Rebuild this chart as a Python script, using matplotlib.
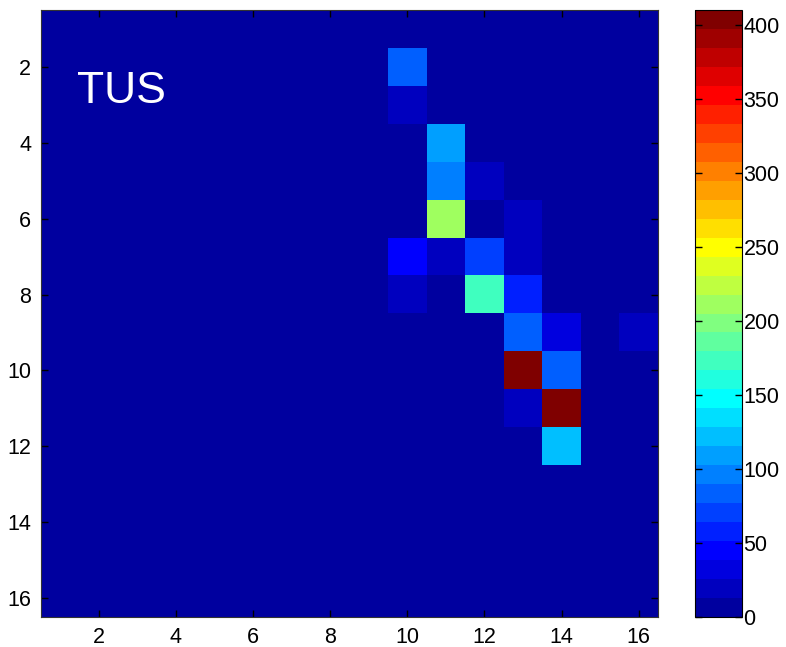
import numpy as np
import matplotlib
matplotlib.use('Agg')
import matplotlib.pyplot as plt
from matplotlib.colors import ListedColormap

# Datos (fila, columna, valor) - el resto de la matriz 16x16 es cero
filas = [2, 3, 4, 5, 5, 6, 6, 7, 7, 7, 7, 8, 8, 8, 9, 9, 9, 10, 10, 11, 11, 12]
columnas = [10, 10, 11, 11, 12, 11, 13, 10, 11, 12, 13, 10, 12, 13, 13, 14, 16, 13, 14, 13, 14, 14]
valores = [83, 20, 108, 96, 20, 211, 20, 45, 20, 70, 20, 20, 173, 58, 83, 32, 18, 405, 83, 20, 410, 122]
cbar_ticks = [0, 50, 100, 150, 200, 250, 300, 350, 400]
N = 16

M = np.zeros((N, N))
for f, c, v in zip(filas, columnas, valores):
    M[f - 1, c - 1] = v


# jet(32) como en MATLAB
def jet_matlab(m):
    n = int(np.ceil(m / 4))
    u = np.concatenate([np.arange(1, n + 1) / n, np.ones(n - 1), np.arange(n, 0, -1) / n])
    g = int(np.ceil(n / 2)) - (1 if m % 4 == 1 else 0) + np.arange(1, len(u) + 1)
    r = g + n
    b = g - n
    J = np.zeros((m, 3))
    for idx, col in ((r, 0), (g, 1), (b, 2)):
        ok = (idx >= 1) & (idx <= m)
        J[idx[ok] - 1, col] = u[ok]
    return ListedColormap(J)


cmap = jet_matlab(32)
plt.rcParams['font.family'] = ['Liberation Sans', 'DejaVu Sans']

fig = plt.figure(figsize=(7.86, 6.47), dpi=100)
ax = fig.add_axes([41 / 786, 1 - 617 / 647, 617 / 786, 607 / 647])
im = ax.imshow(M, cmap=cmap, vmin=0, vmax=M.max(), aspect='auto',
               extent=[0.5, N + 0.5, N + 0.5, 0.5], interpolation='nearest')
ax.set_xticks(range(2, N + 1, 2))
ax.set_yticks(range(2, N + 1, 2))
ax.tick_params(direction='in', length=5, width=1, top=True, right=True,
               labelsize=15.5, pad=7)
for s in ax.spines.values():
    s.set_linewidth(0.8)
    s.set_color('#333333')
ax.text(1.43, 2.96, 'TUS', color='white', fontsize=32)

cax = fig.add_axes([695 / 786, 1 - 617 / 647, 47 / 786, 607 / 647])
cb = fig.colorbar(im, cax=cax, ticks=cbar_ticks)
cb.ax.tick_params(direction='in', length=5, width=1, left=True, right=True,
                  labelsize=15.5, pad=1)
cb.outline.set_linewidth(0.8)

fig.savefig('out.png', dpi=100)
